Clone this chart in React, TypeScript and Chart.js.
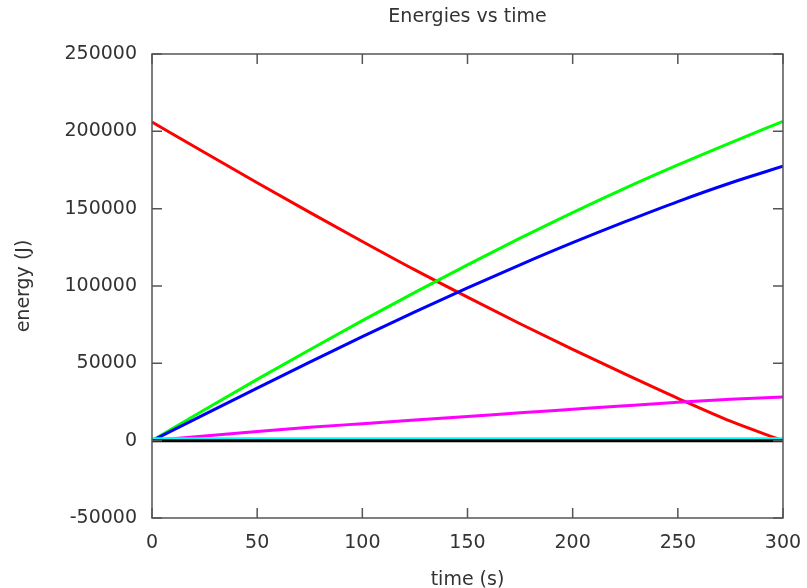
import React, { useEffect, useRef } from "react";
import { Chart, registerables } from "chart.js";

Chart.register(...registerables);

// time samples (s)
const times = [0, 25, 50, 75, 100, 125, 150, 175, 200, 225, 250, 275, 300];

// energy series (J)
const redSeries = [206000, 186300, 166800, 147600, 128800, 110400, 92800, 75600, 59000, 43000, 27400, 12600, 0];
const greenSeries = [0, 20000, 39600, 58800, 77600, 95900, 113700, 130900, 147500, 163300, 178300, 192600, 206500];
const blueSeries = [0, 17000, 34000, 50800, 67300, 83300, 98800, 113700, 128000, 141600, 154600, 166600, 177400];
const magentaSeries = [0, 3000, 5900, 8600, 11000, 13400, 15600, 18000, 20300, 22600, 24800, 26700, 28200];
const cyanSeries = [1200, 1200, 1200, 1200, 1200, 1200, 1200, 1200, 1200, 1200, 1200, 1200, 1200];
const blackSeries = [0, 0, 0, 0, 0, 0, 0, 0, 0, 0, 0, 0, 0];

const titleText = "Energies vs time";
const xTitle = "time (s)";
const yTitle = "energy (J)";

const FONT = "'DejaVu Sans', sans-serif";
const TEXT = "#333333";

const toPoints = (vals: number[]) => times.map((t, i) => ({ x: t, y: vals[i] }));

const framePlugin = {
  id: "gnuframe",
  afterDatasetsDraw(chart: any) {
    const { ctx, chartArea: a, scales } = chart;
    const xs = scales.x;
    const ys = scales.y;
    const L = 10;
    ctx.save();
    ctx.strokeStyle = "#555555";
    ctx.lineWidth = 1.5;
    ctx.strokeRect(a.left, a.top, a.right - a.left, a.bottom - a.top);
    ctx.beginPath();
    ys.ticks.forEach((t: any) => {
      const py = ys.getPixelForValue(t.value);
      ctx.moveTo(a.left, py);
      ctx.lineTo(a.left + L, py);
      ctx.moveTo(a.right, py);
      ctx.lineTo(a.right - L, py);
    });
    xs.ticks.forEach((t: any) => {
      const px = xs.getPixelForValue(t.value);
      ctx.moveTo(px, a.bottom);
      ctx.lineTo(px, a.bottom - L);
      ctx.moveTo(px, a.top);
      ctx.lineTo(px, a.top + L);
    });
    ctx.stroke();
    // title centred over the plot area
    ctx.fillStyle = TEXT;
    ctx.font = `19px ${FONT}`;
    ctx.textAlign = "center";
    ctx.textBaseline = "middle";
    ctx.fillText(titleText, (a.left + a.right) / 2, 17);
    ctx.restore();
  },
};

export default function App() {
  const ref = useRef<HTMLCanvasElement | null>(null);

  useEffect(() => {
    if (!ref.current) return;
    const mk = (vals: number[], color: string, order: number, width = 3) => ({
      data: toPoints(vals),
      borderColor: color,
      backgroundColor: color,
      borderWidth: width,
      pointRadius: 0,
      fill: false,
      cubicInterpolationMode: "monotone" as const,
      order,
    });
    const chart = new Chart(ref.current, {
      type: "line",
      data: {
        datasets: [
          mk(redSeries, "#ff0000", 6),
          mk(greenSeries, "#00ff00", 5),
          mk(blueSeries, "#0000ff", 4),
          mk(magentaSeries, "#ff00ff", 3),
          mk(cyanSeries, "#00ffff", 2),
          mk(blackSeries, "#000000", 1),
        ],
      },
      options: {
        animation: false,
        responsive: false,
        layout: { padding: { left: 0, right: 24, top: 54, bottom: 0 } },
        plugins: {
          legend: { display: false },
          tooltip: { enabled: false },
          title: { display: false },
        },
        scales: {
          x: {
            type: "linear",
            min: 0,
            max: 300,
            ticks: {
              stepSize: 50,
              color: TEXT,
              font: { family: FONT, size: 19 },
              padding: 14,
              maxRotation: 0,
            },
            grid: { display: false, drawTicks: false },
            border: { display: false },
            title: {
              display: true,
              text: xTitle,
              color: TEXT,
              font: { family: FONT, size: 19 },
              padding: { top: 0, bottom: -3 },
            },
            afterFit: (s: any) => {
              s.height = 70;
              s.paddingLeft = 0;
              s.paddingRight = 0;
            },
          },
          y: {
            type: "linear",
            min: -50000,
            max: 250000,
            ticks: {
              stepSize: 50000,
              color: TEXT,
              font: { family: FONT, size: 19 },
              padding: 15,
              callback: (v: any) => String(v),
            },
            grid: { display: false, drawTicks: false },
            border: { display: false },
            title: {
              display: true,
              text: yTitle,
              color: TEXT,
              font: { family: FONT, size: 19 },
              padding: { top: 13, bottom: 0 },
            },
            afterFit: (s: any) => {
              s.width = 152;
              s.paddingTop = 0;
              s.paddingBottom = 0;
            },
          },
        },
      },
      plugins: [framePlugin],
    });
    return () => chart.destroy();
  }, []);

  return (
    <div style={{ position: "absolute", left: 0, top: 0, width: 807, height: 588, background: "#fff" }}>
      <canvas ref={ref} width={807} height={588} />
    </div>
  );
}
